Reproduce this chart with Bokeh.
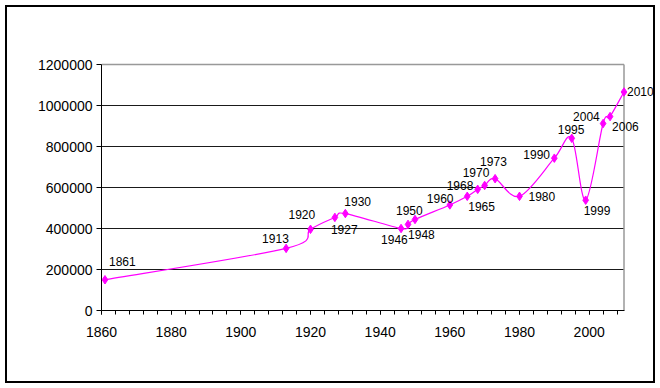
import numpy as np
from bokeh.plotting import figure
from bokeh.models import ColumnDataSource, FixedTicker, LabelSet, Range1d, BasicTickFormatter
from bokeh.core.properties import value
from bokeh.embed import file_html
from bokeh.resources import INLINE

# ---- data ----
years = [1861, 1913, 1920, 1927, 1930, 1946, 1948, 1950, 1960, 1965,
         1968, 1970, 1973, 1980, 1990, 1995, 1999, 2004, 2006, 2010]
values = [150000, 303000, 396000, 454000, 473000, 400000, 420000, 444000, 515000, 557000,
          591000, 610000, 643000, 557000, 743000, 840000, 538000, 912000, 946000, 1066000]
labels = [str(y) for y in years]
x_start, x_end = 1860, 2010
x_ticks = [1860, 1880, 1900, 1920, 1940, 1960, 1980, 2000]
x_minor = list(range(1860, 2011, 4))
y_ticks = [0, 200000, 400000, 600000, 800000, 1000000, 1200000]

# label placement (screen px, left edge of text relative to point; dy up positive)
label_dx = [4, -24, -22, -4, -1, -20, 0, -19, -23, 1,
            -31, -22, -15, 9, -31, -14, -2, -30, 2, 3]
label_dy = [18, 10, 15, -12, 12, -11, -10, 9, 6, -10,
            4, 13, 17, 0, 4, 9, -10, 7, -10, 0]

# ---- smoothed line (Bezier segments, Catmull-Rom style control points) ----
x = np.array(years, dtype=float)
y = np.array(values, dtype=float)
xp = np.concatenate([[x[0]], x, [x[-1]]])
yp = np.concatenate([[y[0]], y, [y[-1]]])
n = len(x)
idx = np.arange(n - 1)
seg = ColumnDataSource(dict(
    x0=x[:-1], y0=y[:-1], x1=x[1:], y1=y[1:],
    cx0=x[:-1] + (x[1:] - xp[idx]) / 6.0,
    cy0=y[:-1] + (y[1:] - yp[idx]) / 6.0,
    cx1=x[1:] - (xp[idx + 3] - x[:-1]) / 6.0,
    cy1=y[1:] - (yp[idx + 3] - y[:-1]) / 6.0,
))

pts = ColumnDataSource(dict(x=years, y=values, label=labels, dx=label_dx, dy=label_dy))

# ---- layout (canvas pixels) ----
W, H = 660, 388
LEFT, RIGHT, TOP, BOTTOM = 101, 4, 61, 78
x_px = 522.5        # pixel span of 1860..2010
y_px = 246.0        # pixel span of 0..1200000
frame_w = W - LEFT - RIGHT
frame_h = H - TOP - BOTTOM
x_hi = x_start + (x_end - x_start) * frame_w / x_px
y_hi = y_ticks[-1] * frame_h / y_px

p = figure(width=W, height=H, output_backend="svg", toolbar_location=None,
           x_range=Range1d(x_start, x_hi), y_range=Range1d(0, y_hi),
           min_border_left=LEFT, min_border_right=RIGHT, min_border_top=TOP, min_border_bottom=BOTTOM,
           background_fill_color=None, border_fill_color=None)
# outer chart border, drawn by the host element behind the transparent canvas
p.styles = {"background-color": "white",
            "box-shadow": "inset 0 0 0 5px white, inset 0 0 0 7px black",
            "outline": "2px solid black", "outline-offset": "-7px"}
p.outline_line_color = None
p.xgrid.visible = False
p.ygrid.visible = False

# horizontal gridlines and plot-area border
grid_y = y_ticks[1:-1]
p.segment(x0=[x_start] * len(grid_y), x1=[x_end] * len(grid_y), y0=grid_y, y1=grid_y,
          line_color="#1a1a1a", line_width=1.2)
p.segment(x0=[x_start, x_end], x1=[x_end, x_end], y0=[y_ticks[-1], 0], y1=[y_ticks[-1], y_ticks[-1]],
          line_color="#999999", line_width=1.5)

font = "Liberation Sans"
p.xaxis.ticker = FixedTicker(ticks=x_ticks, minor_ticks=x_minor)
p.xaxis.bounds = (x_start, x_end)
p.xaxis.major_tick_in = 0
p.xaxis.major_tick_out = 4
p.xaxis.minor_tick_in = 0
p.xaxis.minor_tick_out = 4
p.xaxis.major_label_standoff = 12
p.yaxis.ticker = FixedTicker(ticks=y_ticks)
p.yaxis.bounds = (0, y_ticks[-1])
p.yaxis.formatter = BasicTickFormatter(use_scientific=False)
p.yaxis.major_tick_in = 0
p.yaxis.major_tick_out = 5
p.yaxis.minor_tick_line_color = None
p.yaxis.major_label_standoff = 4
for ax in (p.xaxis, p.yaxis):
    ax.axis_line_color = "black"
    ax.major_tick_line_color = "black"
    ax.major_label_text_font = font
    ax.major_label_text_font_size = "14px"
    ax.major_label_text_color = "black"
p.xaxis.minor_tick_line_color = "black"

p.bezier(x0="x0", y0="y0", x1="x1", y1="y1", cx0="cx0", cy0="cy0", cx1="cx1", cy1="cy1",
         source=seg, line_color="#FF00FF", line_width=1.2)
p.scatter(x="x", y="y", source=pts, marker="diamond", size=8.5,
          fill_color="#FF00FF", line_color="#FF00FF")

lbl = LabelSet(x="x", y="y", text="label", source=pts, x_offset="dx", y_offset="dy",
               text_align="left", text_baseline="middle", text_font=value(font),
               text_font_size="12px", text_color="black")
p.add_layout(lbl)

open("out.html", "w").write(file_html(p, INLINE))
